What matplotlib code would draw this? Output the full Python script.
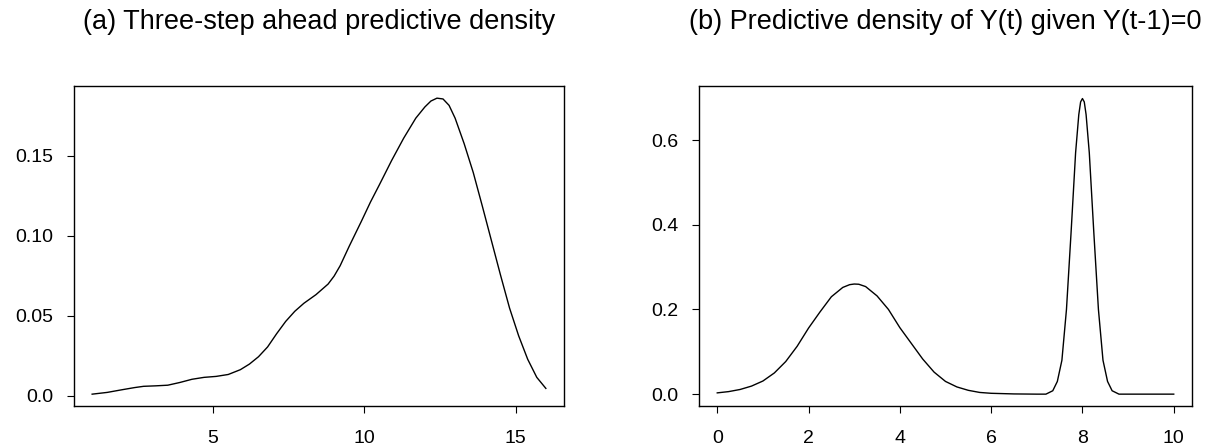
import matplotlib
matplotlib.use("Agg")
import matplotlib.pyplot as plt

plt.rcParams['font.family'] = ['Liberation Sans', 'DejaVu Sans']

# (a) three-step ahead predictive density
a_x = [1.0, 1.5, 2.0, 2.4, 2.7, 3.1, 3.5, 3.9, 4.3, 4.7, 5.1, 5.5, 5.9, 6.2,
       6.5, 6.8, 7.1, 7.4, 7.7, 8.0, 8.4, 8.8, 9.0, 9.2, 9.5, 9.9, 10.2,
       10.5, 10.9, 11.3, 11.7, 12.0, 12.2, 12.4, 12.6, 12.8, 13.0, 13.3,
       13.6, 13.9, 14.2, 14.5, 14.8, 15.1, 15.4, 15.7, 16.0]
a_y = [0.0010, 0.0021, 0.0038, 0.0051, 0.0059, 0.0062, 0.0066, 0.0083,
       0.0103, 0.0115, 0.0121, 0.0133, 0.0163, 0.0198, 0.0244, 0.0305,
       0.0388, 0.0465, 0.0528, 0.0578, 0.0632, 0.0698, 0.0748, 0.0813,
       0.0935, 0.1090, 0.1210, 0.1320, 0.1470, 0.1610, 0.1735, 0.1805,
       0.1842, 0.1860, 0.1855, 0.1815, 0.1735, 0.1575, 0.1395, 0.1185,
       0.0970, 0.0755, 0.0548, 0.0375, 0.0228, 0.0115, 0.0046]

# (b) predictive density of Y(t) given Y(t-1)=0
b_x = [0.0, 0.25, 0.5, 0.75, 1.0, 1.25, 1.5, 1.75, 2.0, 2.25, 2.5, 2.75,
       2.9, 3.0, 3.1, 3.25, 3.5, 3.75, 4.0, 4.25, 4.5, 4.75, 5.0, 5.25,
       5.5, 5.75, 6.0, 6.5, 7.0, 7.2, 7.35, 7.45, 7.55, 7.65, 7.75, 7.85,
       7.92, 7.96, 8.0, 8.04, 8.08, 8.15, 8.25, 8.35, 8.45, 8.55, 8.65,
       8.8, 9.0, 10.0]
b_y = [0.003, 0.006, 0.011, 0.019, 0.031, 0.050, 0.077, 0.113, 0.156,
       0.194, 0.230, 0.252, 0.2585, 0.2600, 0.2595, 0.254, 0.232, 0.200,
       0.157, 0.120, 0.083, 0.052, 0.030, 0.017, 0.009, 0.004, 0.002,
       0.0005, 0.0, 0.0, 0.008, 0.030, 0.080, 0.200, 0.380, 0.570, 0.660,
       0.690, 0.698, 0.690, 0.660, 0.570, 0.380, 0.200, 0.080, 0.030,
       0.008, 0.0, 0.0, 0.0]

titles = ['(a) Three-step ahead predictive density',
          '(b) Predictive density of Y(t) given Y(t-1)=0']

fig = plt.figure(figsize=(12.11, 4.46), dpi=100)
ax1 = fig.add_axes([74/1211, 40/446, 490/1211, 320/446])
ax2 = fig.add_axes([699/1211, 40/446, 493/1211, 320/446])

ax1.plot(a_x, a_y, color='black', lw=1.0)
ax1.set_xlim(0.4, 16.6)
ax1.set_ylim(-0.0064, 0.1936)
ax1.set_xticks([5, 10, 15])
ax1.set_yticks([0.0, 0.05, 0.10, 0.15])
ax1.set_yticklabels(['0.0', '0.05', '0.10', '0.15'])

ax2.plot(b_x, b_y, color='black', lw=1.0)
ax2.set_xlim(-0.4, 10.4)
ax2.set_ylim(-0.028, 0.7276)
ax2.set_xticks([0, 2, 4, 6, 8, 10])
ax2.set_yticks([0.0, 0.2, 0.4, 0.6])
ax2.set_yticklabels(['0.0', '0.2', '0.4', '0.6'])

for ax, t in zip([ax1, ax2], titles):
    for s in ax.spines.values():
        s.set_linewidth(1.0)
    ax.tick_params(direction='out', length=5, width=0.8, labelsize=14)
    ax.tick_params(axis='x', pad=12)
    ax.tick_params(axis='y', pad=10)
    pos = ax.get_position()
    fig.text((pos.x0 + pos.x1) / 2, 1 - 22/446, t, ha='center', va='center',
             fontsize=19.5)

fig.savefig('out.png', dpi=100)
